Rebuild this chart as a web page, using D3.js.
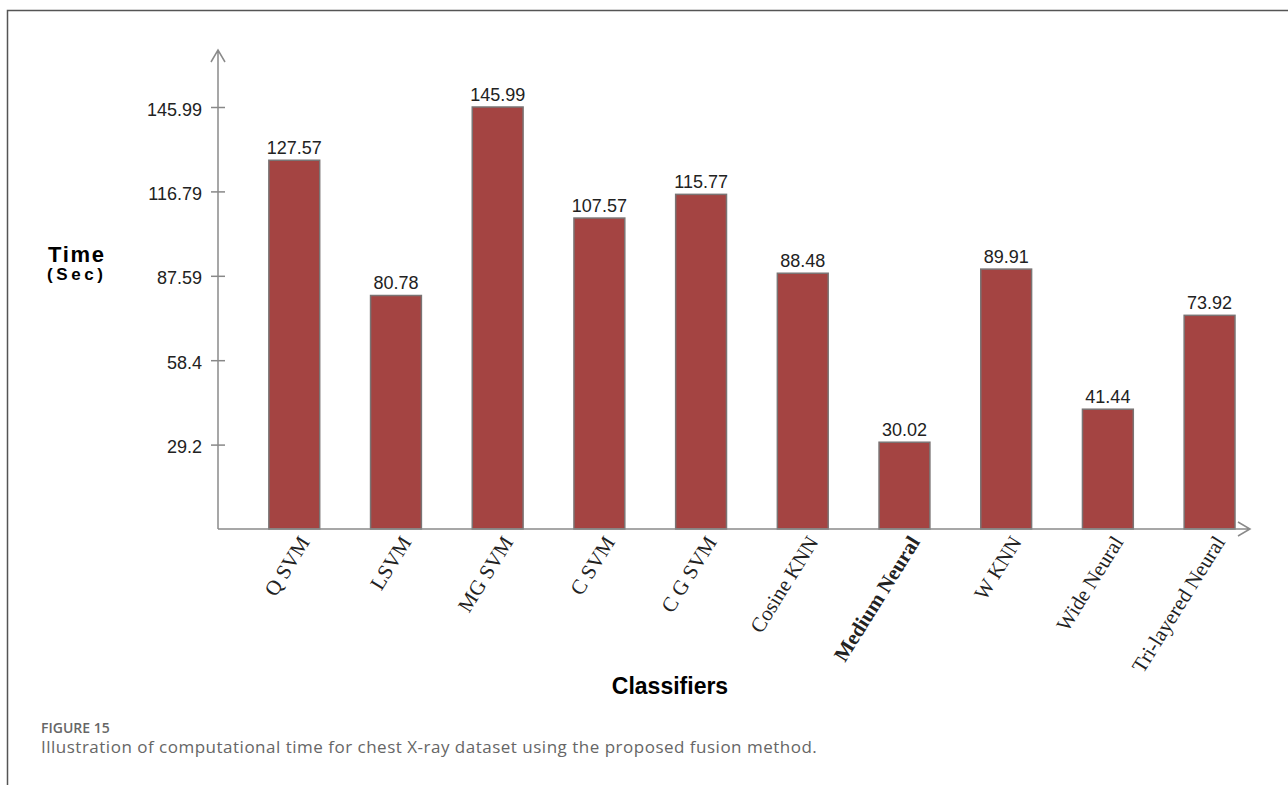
<!DOCTYPE html>
<html>
<head>
<meta charset="utf-8">
<script src="https://cdn.jsdelivr.net/npm/d3@7"></script>
<style>
  body { margin: 0; background: #fff; }
  svg { display: block; }
</style>
</head>
<body>
<div id="chart"></div>
<script>
// classifier names and their computation time (sec)
const classifiers = ["Q SVM", "LSVM", "MG SVM", "C SVM", "C G SVM", "Cosine KNN",
    "Medium Neural", "W KNN", "Wide Neural", "Tri-layered Neural"];
const times = [127.57, 80.78, 145.99, 107.57, 115.77, 88.48, 30.02, 89.91, 41.44, 73.92];
const yTicks = [29.2, 58.4, 87.59, 116.79, 145.99];
const boldLabel = "Medium Neural";

const width = 1288;
const height = 785;

const svg = d3.select("#chart")
    .append("svg")
    .attr("width", width)
    .attr("height", height);

// outer frame (top + left rule only)
svg.append("path")
    .attr("d", `M7.5,${height} V10.5 H${width}`)
    .attr("fill", "none")
    .attr("stroke", "#555")
    .attr("stroke-width", 1.5);

const x0 = 218;     // y axis position
const base = 529;   // x axis position

const x = d3.scaleBand()
    .domain(classifiers)
    .range([x0, x0 + 101.7 * 10.5])
    .paddingInner(0.5)
    .paddingOuter(0.5);

const y = d3.scaleLinear()
    .domain([0, 145.99])
    .range([base, 107]);

const data = classifiers.map((c, i) => ({ name: c, value: times[i] }));

// bars
svg.selectAll(".bar")
    .data(data)
    .enter().append("rect")
    .attr("class", "bar")
    .attr("x", d => x(d.name))
    .attr("y", d => y(d.value))
    .attr("width", x.bandwidth())
    .attr("height", d => base - y(d.value))
    .attr("fill", "#a44442")
    .attr("stroke", "#7a7474")
    .attr("stroke-width", 1.5);

// value labels
svg.selectAll(".val")
    .data(data)
    .enter().append("text")
    .attr("class", "val")
    .attr("x", d => x(d.name) + x.bandwidth() / 2)
    .attr("y", d => y(d.value) - 6)
    .attr("text-anchor", "middle")
    .style("font-family", "Liberation Sans, Arial, sans-serif")
    .style("font-size", "18px")
    .style("fill", "#222")
    .text(d => d.value.toFixed(2));

// y axis with ticks crossing the line
const yAxis = svg.append("g")
    .attr("transform", `translate(${x0},0)`)
    .call(d3.axisLeft(y).tickValues(yTicks).tickFormat(d => d).tickSize(7));
yAxis.select(".domain").remove();
yAxis.selectAll(".tick line")
    .attr("x1", 7)
    .attr("stroke", "#888")
    .attr("stroke-width", 1.5);
yAxis.selectAll(".tick text")
    .attr("x", -16)
    .attr("dy", "0.45em")
    .style("font-family", "Liberation Sans, Arial, sans-serif")
    .style("font-size", "18px")
    .style("fill", "#222");

// axis lines with open arrow heads
const axisColor = "#8a8a8a";
svg.append("path")
    .attr("d", `M${x0},${base} V50 M${x0 - 7},62 L${x0},50 L${x0 + 7},62`)
    .attr("fill", "none")
    .attr("stroke", axisColor)
    .attr("stroke-width", 1.5);
svg.append("path")
    .attr("d", `M${x0},${base} H1250 M1238,${base - 7} L1250,${base} L1238,${base + 7}`)
    .attr("fill", "none")
    .attr("stroke", axisColor)
    .attr("stroke-width", 1.5);

// rotated category labels
svg.selectAll(".cat")
    .data(classifiers)
    .enter().append("text")
    .attr("class", "cat")
    .attr("transform", d => `translate(${x(d) + x.bandwidth() / 2 + 10},${base + 9}) rotate(-58)`)
    .attr("text-anchor", "end")
    .attr("dy", "0.35em")
    .style("font-family", "Liberation Serif, 'Times New Roman', serif")
    .style("font-size", "21px")
    .style("font-weight", d => d === boldLabel ? "bold" : "normal")
    .style("fill", "#222")
    .text(d => d);

// axis titles
svg.append("text")
    .attr("x", 48)
    .attr("y", 262)
    .style("font-family", "Liberation Sans, Arial, sans-serif")
    .style("font-size", "22px")
    .style("font-weight", "bold")
    .style("letter-spacing", "1.7px")
    .text("Time");
svg.append("text")
    .attr("x", 47)
    .attr("y", 280)
    .style("font-family", "Liberation Sans, Arial, sans-serif")
    .style("font-size", "17px")
    .style("font-weight", "bold")
    .style("letter-spacing", "3.6px")
    .text("(Sec)");
svg.append("text")
    .attr("x", 670)
    .attr("y", 694)
    .attr("text-anchor", "middle")
    .style("font-family", "Liberation Sans, Arial, sans-serif")
    .style("font-size", "23px")
    .style("font-weight", "bold")
    .text("Classifiers");

// caption
svg.append("text")
    .attr("x", 41)
    .attr("y", 733)
    .style("font-family", "'Open Sans', sans-serif")
    .style("font-size", "14px")
    .style("font-weight", "600")
    .style("fill", "#666")
    .text("FIGURE 15");
svg.append("text")
    .attr("x", 41)
    .attr("y", 753)
    .style("font-family", "'Open Sans', sans-serif")
    .style("font-size", "17px")
    .style("letter-spacing", "0.5px")
    .style("fill", "#666")
    .text("Illustration of computational time for chest X-ray dataset using the proposed fusion method.");
</script>
</body>
</html>
